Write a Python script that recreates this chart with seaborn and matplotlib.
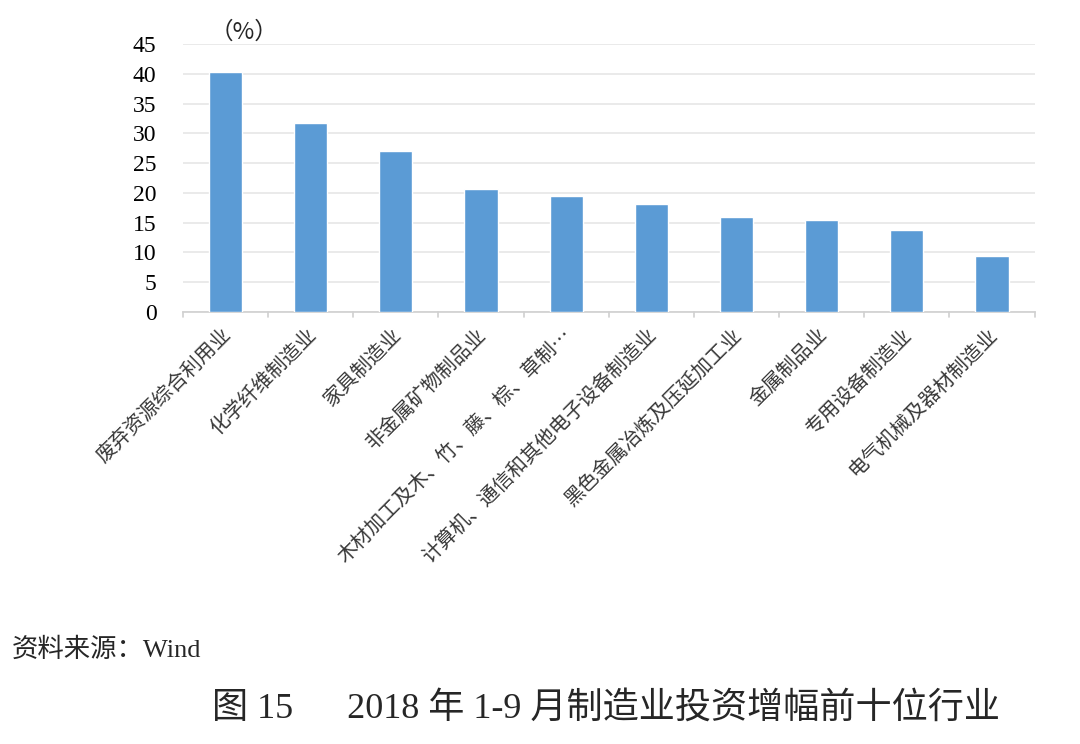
import matplotlib
matplotlib.use("Agg")
import matplotlib.pyplot as plt
import matplotlib.transforms as mtransforms
import seaborn as sns
import pandas as pd

categories = ["废弃资源综合利用业", "化学纤维制造业", "家具制造业", "非金属矿物制品业",
              "木材加工及木、竹、藤、棕、草制…", "计算机、通信和其他电子设备制造业",
              "黑色金属冶炼及压延加工业", "金属制品业", "专用设备制造业", "电气机械及器材制造业"]
values = [40.3, 31.8, 27.0, 20.6, 19.4, 18.2, 16.0, 15.4, 13.7, 9.4]
yticks = [0, 5, 10, 15, 20, 25, 30, 35, 40, 45]

sns.set_theme(style="white")
plt.rcParams['font.family'] = ['Liberation Serif', 'Noto Sans CJK SC', 'DejaVu Sans']

df = pd.DataFrame({"industry": categories, "growth": values})

fig = plt.figure(figsize=(10.8, 7.44), dpi=100)
ax = fig.add_axes([0.1694, 0.581, 0.7886, 0.3595])
sns.barplot(data=df, x="industry", y="growth", color="#5B9BD5", saturation=1,
            width=0.39, ax=ax, zorder=3)

ax.set_ylim(0, 45)
ax.set_xlim(-0.5, len(categories) - 0.5)
ax.set_yticks(yticks)
ax.set_yticklabels([str(t) for t in yticks], fontsize=17, family='Liberation Serif')
ax.yaxis.grid(True, color="#E6E6E6", linewidth=1.2, zorder=0)
ax.set_xlabel("")
ax.set_ylabel("")
for s in ["top", "right", "left"]:
    ax.spines[s].set_visible(False)
ax.spines["bottom"].set_color("#D0D0D0")
ax.spines["bottom"].set_linewidth(1.2)
ax.tick_params(axis='y', length=0, pad=19, colors='black')

# category labels
ax.set_xticks(range(len(categories)))
ax.set_xticklabels(categories, rotation=45, ha='right', rotation_mode='anchor',
                   fontsize=14.5, family=['Noto Sans CJK SC', 'DejaVu Sans'], color='#383838')
ax.tick_params(axis='x', length=0, pad=9)
offset = mtransforms.ScaledTranslation(-5 / 100, 0, fig.dpi_scale_trans)
for lbl in ax.get_xticklabels():
    lbl.set_transform(lbl.get_transform() + offset)
# boundary tick marks
for b in [i - 0.5 for i in range(len(categories) + 1)]:
    ax.plot([b, b], [0, -0.9], color="#D0D0D0", linewidth=1.2, clip_on=False, zorder=2)

fig.text(0.194, 0.957, "（%）", fontsize=17, family=['Noto Sans CJK SC', 'DejaVu Sans'],
         ha='left', va='center')
fig.text(0.011, 0.127, "资料来源：Wind", fontsize=19,
         family=['Liberation Serif', 'Noto Sans CJK SC'], ha='left', va='center')
fig.text(0.561, 0.048, "图 15      2018 年 1-9 月制造业投资增幅前十位行业", fontsize=26,
         family=['Liberation Serif', 'Noto Sans CJK SC'], ha='center', va='center')

fig.savefig("out.png", dpi=100)
